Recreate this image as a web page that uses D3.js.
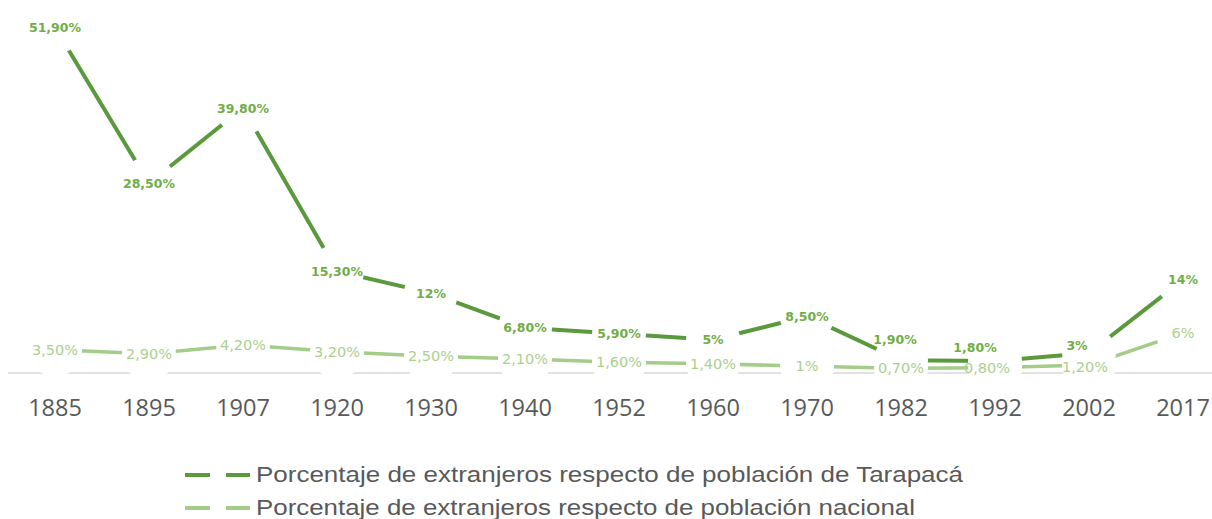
<!DOCTYPE html>
<html>
<head>
<meta charset="utf-8">
<script src="https://cdn.jsdelivr.net/npm/d3@7"></script>
<style>
  html, body { margin: 0; padding: 0; background: #ffffff; }
  svg { display: block; }
</style>
</head>
<body>
<svg id="chart" width="1212" height="519"></svg>
<script>
const years = ["1885","1895","1907","1920","1930","1940","1952","1960","1970","1982","1992","2002","2017"];
const tarapaca = [51.9, 28.5, 39.8, 15.3, 12, 6.8, 5.9, 5, 8.5, 1.9, 1.8, 3, 14];
const nacional = [3.5, 2.9, 4.2, 3.2, 2.5, 2.1, 1.6, 1.4, 1, 0.7, 0.8, 1.2, 6];
const tarapacaLabels = ["51,90%","28,50%","39,80%","15,30%","12%","6,80%","5,90%","5%","8,50%","1,90%","1,80%","3%","14%"];
const nacionalLabels = ["3,50%","2,90%","4,20%","3,20%","2,50%","2,10%","1,60%","1,40%","1%","0,70%","0,80%","1,20%","6%"];
const seriesNames = ["Porcentaje de extranjeros respecto de población de Tarapacá",
                     "Porcentaje de extranjeros respecto de población nacional"];

// styling / layout (not data)
const W = 1212, H = 519;
const colDark = "#5b9a3c", colDarkLbl = "#70ad47";
const colLight = "#a3cd89", colLightLbl = "#a9d18e";
const gapR = 27;
// manual label nudges (Excel-style repositioned labels), keyed by category
const tarapacaNudge = { "1982": [-6, -21], "1992": [-20, -14], "2002": [-12, -8] };
const nacionalNudge = { "1992": [-8, 0], "2002": [-4, 2] };

const svg = d3.select("#chart");

const x = d3.scaleBand().domain(years).range([8, 8 + 94 * years.length]);
const y = d3.scaleLinear().domain([0, 60]).range([373, 373 - 60 * 6.657]);
const cx = d => x(d) + x.bandwidth() / 2;

// category axis
const axisG = svg.append("g").attr("transform", "translate(0,373)")
  .call(d3.axisBottom(x).tickSize(0).tickPadding(26));
axisG.select(".domain").attr("stroke", "#d9d9d9").attr("stroke-width", 1.5)
  .attr("d", `M8,0H${W}`);
axisG.selectAll(".tick text")
  .attr("fill", "#595959")
  .style("font-family", "'Open Sans', 'Liberation Sans', sans-serif")
  .style("font-size", "23.5px");

const line = d3.line().x((d, i) => cx(years[i])).y(d => y(d));

svg.append("path").datum(tarapaca).attr("d", line)
  .attr("fill", "none").attr("stroke", colDark).attr("stroke-width", 4);
svg.append("path").datum(nacional).attr("d", line)
  .attr("fill", "none").attr("stroke", colLight).attr("stroke-width", 3.5);

// white markers (hide lines around each point, as in the original)
[tarapaca, nacional].forEach(arr => {
  svg.append("g").selectAll("circle").data(arr).join("circle")
    .attr("cx", (d, i) => cx(years[i])).attr("cy", d => y(d))
    .attr("r", gapR).attr("fill", "#ffffff");
});

// data labels
svg.append("g").selectAll("text").data(tarapaca).join("text")
  .attr("x", (d, i) => cx(years[i]) + (tarapacaNudge[years[i]] || [0, 0])[0])
  .attr("y", (d, i) => y(d) + (tarapacaNudge[years[i]] || [0, 0])[1])
  .attr("text-anchor", "middle").attr("dominant-baseline", "central")
  .attr("fill", colDarkLbl)
  .style("font-family", "'DejaVu Sans', sans-serif")
  .style("font-weight", "bold").style("font-size", "12.5px")
  .text((d, i) => tarapacaLabels[i]);

svg.append("g").selectAll("text").data(nacional).join("text")
  .attr("x", (d, i) => cx(years[i]) + (nacionalNudge[years[i]] || [0, 0])[0])
  .attr("y", (d, i) => y(d) + (nacionalNudge[years[i]] || [0, 0])[1])
  .attr("text-anchor", "middle").attr("dominant-baseline", "central")
  .attr("fill", colLightLbl)
  .style("font-family", "'DejaVu Sans', sans-serif")
  .style("font-size", "14.5px")
  .text((d, i) => nacionalLabels[i]);

// legend
const legend = svg.append("g");
const legCols = [colDark, colLight];
const legY = [475, 508];
const legLen = [707, 659];
seriesNames.forEach((name, i) => {
  legend.append("line").attr("x1", 185).attr("x2", 250).attr("y1", legY[i]).attr("y2", legY[i])
    .attr("stroke", legCols[i]).attr("stroke-width", 4);
  legend.append("rect").attr("x", 210).attr("y", legY[i] - 4).attr("width", 16).attr("height", 8)
    .attr("fill", "#ffffff");
  legend.append("text").attr("x", 256).attr("y", legY[i] + 7)
    .attr("fill", "#595959")
    .style("font-family", "'Liberation Sans', Arial, sans-serif")
    .style("font-size", "22.5px")
    .attr("textLength", legLen[i]).attr("lengthAdjust", "spacingAndGlyphs")
    .text(name);
});
</script>
</body>
</html>
